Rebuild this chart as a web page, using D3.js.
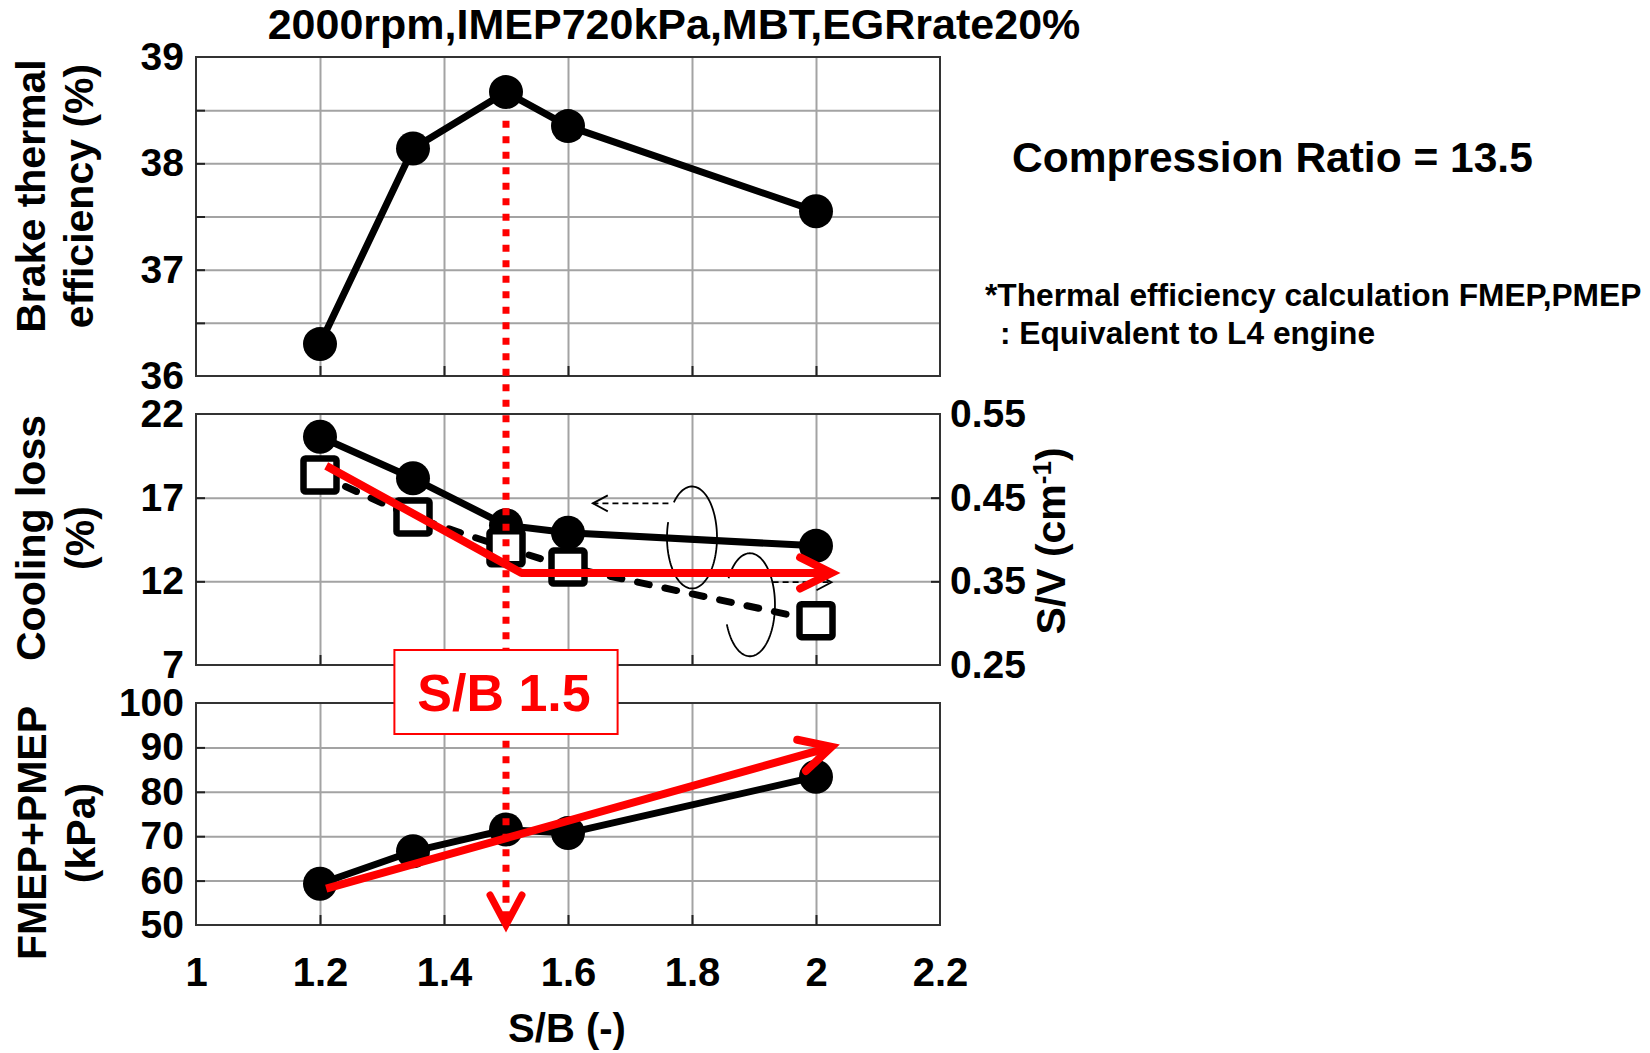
<!DOCTYPE html>
<html><head><meta charset="utf-8">
<script src="https://cdn.jsdelivr.net/npm/d3@7"></script>
<style>
body{margin:0;background:#fff}
text{font-family:"Liberation Sans",Arial,sans-serif;font-weight:bold}
</style>
</head><body><svg id="c" width="1650" height="1053"></svg>
<script>
// ---------- data ----------
const sbRatio      = [1.2, 1.35, 1.5, 1.6, 2.0];
const brakeEff     = [36.3, 38.14, 38.67, 38.35, 37.55];
const coolingLoss  = [20.64, 18.16, 15.35, 14.9, 14.12];
const svRatio      = [0.477, 0.427, 0.39, 0.367, 0.303];
const fmepPmep     = [59.3, 66.6, 71.5, 70.7, 83.4];

const xTicks    = [1, 1.2, 1.4, 1.6, 1.8, 2, 2.2];
const xGrid     = [1.2, 1.4, 1.6, 1.8, 2];
const effTicks  = [36, 37, 38, 39];
const effGrid   = [36.5, 37, 37.5, 38, 38.5];
const coolTicks = [7, 12, 17, 22];
const coolGrid  = [12, 17];
const svTicks   = [0.25, 0.35, 0.45, 0.55];
const fricTicks = [50, 60, 70, 80, 90, 100];
const fricGrid  = [60, 70, 80, 90];

// red trend annotations (data units)
const trendCoolX = [1.21, 1.525, 2.025];
const trendCoolY = [18.9, 12.5, 12.5];
const trendFricX = [1.21, 2.025];
const trendFricY = [58.2, 90.1];
const optimumSB  = 1.5;

const titleText = "2000rpm,IMEP720kPa,MBT,EGRrate20%";

// ---------- layout ----------
const svg = d3.select("#c");
const X0 = 196, X1 = 940;
const P = {
  top: {y0: 57,  y1: 376},
  mid: {y0: 414, y1: 665},
  bot: {y0: 703, y1: 925}
};
const x = d3.scaleLinear([1, 2.2], [X0, X1]);
const yTop = d3.scaleLinear([36, 39], [P.top.y1, P.top.y0]);
const yMid = d3.scaleLinear([7, 22], [P.mid.y1, P.mid.y0]);
const ySV  = d3.scaleLinear([0.25, 0.55], [P.mid.y1, P.mid.y0]);
const yBot = d3.scaleLinear([50, 100], [P.bot.y1, P.bot.y0]);

const FONT = '"Liberation Sans", Arial, sans-serif';
const gridColor = "#a3a3a3";
const frameColor = "#333";

function styleAxis(g, size) {
  g.attr("font-size", size).attr("font-family", FONT).attr("font-weight", "bold");
  g.select(".domain").remove();
  g.selectAll("text").attr("fill", "#000");
}

function panel(p, yScale, yGridVals, yTickVals) {
  const g = svg.append("g");
  const h = p.y1 - p.y0;
  const gx = g.append("g").attr("transform", `translate(0,${p.y1})`)
    .call(d3.axisBottom(x).tickValues(xGrid).tickSize(-h).tickFormat(""));
  gx.select(".domain").remove();
  gx.selectAll("line").attr("stroke", gridColor).attr("stroke-width", 2);
  const gy = g.append("g").attr("transform", `translate(${X0},0)`)
    .call(d3.axisLeft(yScale).tickValues(yGridVals).tickSize(-(X1 - X0)).tickFormat(""));
  gy.select(".domain").remove();
  gy.selectAll("line").attr("stroke", gridColor).attr("stroke-width", 2);
  g.append("rect").attr("x", X0).attr("y", p.y0).attr("width", X1 - X0).attr("height", h)
    .attr("fill", "none").attr("stroke", frameColor).attr("stroke-width", 2);
  const tb = g.append("g").attr("transform", `translate(0,${p.y1})`)
    .call(d3.axisBottom(x).tickValues(xGrid).tickSize(-10).tickFormat(""));
  tb.select(".domain").remove();
  tb.selectAll("line").attr("stroke", "#222").attr("stroke-width", 2);
  const tl = g.append("g").attr("transform", `translate(${X0},0)`)
    .call(d3.axisLeft(yScale).tickValues(yGridVals).tickSize(-9).tickFormat(""));
  tl.select(".domain").remove();
  tl.selectAll("line").attr("stroke", "#222").attr("stroke-width", 2);
  const ll = g.append("g").attr("transform", `translate(${X0},0)`)
    .call(d3.axisLeft(yScale).tickValues(yTickVals).tickSize(0).tickPadding(12).tickFormat(d => String(d)));
  styleAxis(ll, 39);
  return g;
}

panel(P.top, yTop, effGrid, effTicks);
panel(P.mid, yMid, coolGrid, coolTicks);
panel(P.bot, yBot, fricGrid, fricTicks);

// right axis for S/V
const tr = svg.append("g").attr("transform", `translate(${X1},0)`)
  .call(d3.axisLeft(ySV).tickValues([0.35, 0.45]).tickSize(9).tickFormat(""));
tr.select(".domain").remove();
tr.selectAll("line").attr("stroke", "#222").attr("stroke-width", 2);
const rl = svg.append("g").attr("transform", `translate(${X1},0)`)
  .call(d3.axisRight(ySV).tickValues(svTicks).tickSize(0).tickPadding(10).tickFormat(d => String(d)));
styleAxis(rl, 39);

// x-axis labels
const xl = svg.append("g").attr("transform", `translate(0,${P.bot.y1})`)
  .call(d3.axisBottom(x).tickValues(xTicks).tickSize(0).tickPadding(33).tickFormat(d => String(d)));
styleAxis(xl, 40);

// ---------- axis titles ----------
function vLabel(lines, cy, size) {
  const t = svg.append("text").attr("transform", `translate(0,${cy}) rotate(-90)`)
    .attr("text-anchor", "middle").attr("font-size", size);
  lines.forEach(l => t.append("tspan").attr("x", 0).attr("y", l.b).text(l.s));
  return t;
}
vLabel([{s: "Brake thermal", b: 45}, {s: "efficiency (%)", b: 93}], 196, 41);
vLabel([{s: "Cooling loss", b: 45}, {s: "(%)", b: 94}], 538, 41);
vLabel([{s: "FMEP+PMEP", b: 46}, {s: "(kPa)", b: 95}], 833, 41);

const sv = svg.append("text").attr("transform", `translate(1065,541) rotate(-90)`)
  .attr("text-anchor", "middle").attr("font-size", 41);
sv.append("tspan").text("S/V (cm");
sv.append("tspan").attr("font-size", 26).attr("dy", "-14").text("-1");
sv.append("tspan").attr("dy", "14").text(")");

svg.append("text").attr("x", 567).attr("y", 1042).attr("text-anchor", "middle")
  .attr("font-size", 40).text("S/B (-)");

// title & notes
svg.append("text").attr("x", 674).attr("y", 39).attr("text-anchor", "middle")
  .attr("font-size", 43).text(titleText);
svg.append("text").attr("x", 1012).attr("y", 172).attr("font-size", 42.5)
  .text("Compression Ratio = 13.5");
svg.append("text").attr("x", 985).attr("y", 306).attr("font-size", 31.7)
  .text("*Thermal efficiency calculation FMEP,PMEP");
svg.append("text").attr("x", 1000).attr("y", 344).attr("font-size", 31.7)
  .text(": Equivalent to L4 engine");

// ---------- series ----------
const R = 17;
function solidSeries(ys, yScale) {
  const pts = sbRatio.map((v, i) => [x(v), yScale(ys[i])]);
  svg.append("path").attr("d", d3.line()(pts)).attr("fill", "none")
    .attr("stroke", "#000").attr("stroke-width", 7).attr("stroke-linejoin", "round");
  svg.append("g").selectAll("circle").data(pts).join("circle")
    .attr("cx", d => d[0]).attr("cy", d => d[1]).attr("r", R).attr("fill", "#000");
}
solidSeries(brakeEff, yTop);
solidSeries(coolingLoss, yMid);
solidSeries(fmepPmep, yBot);

const svPts = sbRatio.map((v, i) => [x(v), ySV(svRatio[i])]);
svg.append("path").attr("d", d3.line()(svPts)).attr("fill", "none")
  .attr("stroke", "#000").attr("stroke-width", 7).attr("stroke-dasharray", "12,16")
  .attr("stroke-linecap", "round");
const S = 33;
svg.append("g").selectAll("rect").data(svPts).join("rect")
  .attr("x", d => d[0] - S / 2).attr("y", d => d[1] - S / 2).attr("width", S).attr("height", S)
  .attr("rx", 2).attr("fill", "#fff").attr("stroke", "#000").attr("stroke-width", 6.5);

// ---------- ellipses & thin arrows ----------
function ellipseArc(cx, cy, rx, ry, t0, t1) {
  const pts = d3.range(0, 121).map(i => {
    const t = t0 + (t1 - t0) * i / 120;
    return [cx + rx * Math.cos(t), cy + ry * Math.sin(t)];
  });
  svg.append("path").attr("d", d3.line()(pts)).attr("fill", "none")
    .attr("stroke", "#000").attr("stroke-width", 1.8);
}
ellipseArc(x(1.8), yMid(14.62), 25, 51, 3.9, 3.45 + 2 * Math.PI);
ellipseArc(x(1.8935), yMid(10.6), 25, 51.5, -2.6 + 2 * Math.PI, 2.75 + 2 * Math.PI);

function thinArrow(xa, xb, yv, dir) {
  const y = yMid(yv), a = x(xa), b = x(xb);
  svg.append("line").attr("x1", a).attr("x2", b).attr("y1", y).attr("y2", y)
    .attr("stroke", "#000").attr("stroke-width", 1.8).attr("stroke-dasharray", "6,4");
  svg.append("path").attr("d", d3.line()([[b - dir * 15, y - 8], [b, y], [b - dir * 15, y + 8]]))
    .attr("fill", "none").attr("stroke", "#000").attr("stroke-width", 1.8);
}
thinArrow(1.762, 1.64, 16.66, -1);
thinArrow(1.93, 2.025, 11.95, 1);

// ---------- red annotations ----------
const RED = "#ff0000";
function arrowHead(tip, from, len, ang, width) {
  const dx = from[0] - tip[0], dy = from[1] - tip[1];
  const a = Math.atan2(dy, dx);
  const p1 = [tip[0] + len * Math.cos(a + ang), tip[1] + len * Math.sin(a + ang)];
  const p2 = [tip[0] + len * Math.cos(a - ang), tip[1] + len * Math.sin(a - ang)];
  svg.append("path").attr("d", d3.line()([p1, tip, p2])).attr("fill", "none")
    .attr("stroke", RED).attr("stroke-width", width).attr("stroke-linecap", "round")
    .attr("stroke-linejoin", "miter");
}

const xo = x(optimumSB);
svg.append("line").attr("x1", xo).attr("x2", xo).attr("y1", yTop(38.4)).attr("y2", yBot(50) - 4)
  .attr("stroke", RED).attr("stroke-width", 7).attr("stroke-dasharray", "7,8.5");
arrowHead([xo, yBot(50)], [xo, yBot(60)], 34, 0.49, 7);

const cPts = trendCoolX.map((v, i) => [x(v), yMid(trendCoolY[i])]);
svg.append("path").attr("d", d3.line()(cPts)).attr("fill", "none")
  .attr("stroke", RED).attr("stroke-width", 8).attr("stroke-linejoin", "round");
arrowHead(cPts[2], cPts[1], 35, 0.46, 8);

const fPts = trendFricX.map((v, i) => [x(v), yBot(trendFricY[i])]);
svg.append("path").attr("d", d3.line()(fPts)).attr("fill", "none")
  .attr("stroke", RED).attr("stroke-width", 8);
arrowHead(fPts[1], fPts[0], 35, 0.48, 8);

const bx0 = x(1.32), bx1 = x(1.68), by0 = 650, by1 = 734;
svg.append("rect").attr("x", bx0).attr("y", by0).attr("width", bx1 - bx0).attr("height", by1 - by0)
  .attr("fill", "#fff").attr("stroke", RED).attr("stroke-width", 2);
svg.append("text").attr("x", (bx0 + bx1) / 2 - 2).attr("y", 711).attr("text-anchor", "middle")
  .attr("font-size", 52).attr("fill", RED).text("S/B " + optimumSB);
</script>
</body></html>
